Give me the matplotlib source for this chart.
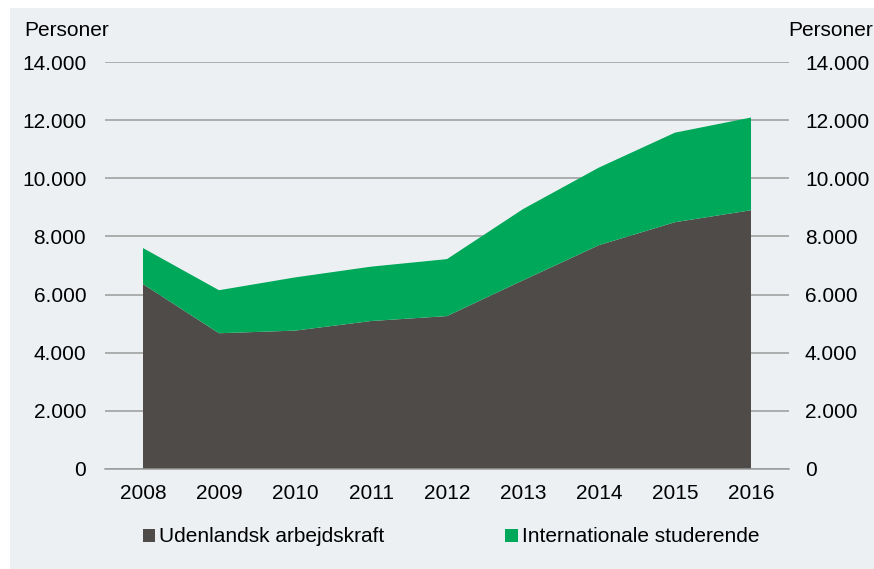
import matplotlib.pyplot as plt
from matplotlib.patches import Rectangle

plt.rcParams['font.family'] = ['Liberation Sans', 'DejaVu Sans']

years = [2008, 2009, 2010, 2011, 2012, 2013, 2014, 2015, 2016]
arbejdskraft = [6360, 4670, 4760, 5090, 5260, 6490, 7700, 8490, 8900]
studerende = [1240, 1480, 1830, 1870, 1960, 2450, 2670, 3080, 3190]
yticks = [0, 2000, 4000, 6000, 8000, 10000, 12000, 14000]
ytick_labels = ['0', '2.000', '4.000', '6.000', '8.000', '10.000', '12.000', '14.000']
labels = ['Udenlandsk arbejdskraft', 'Internationale studerende']

dark = '#4f4b48'
green = '#00a85a'
bg = '#ecf0f3'
grid = '#9a9a9a'
fs = 15

fig = plt.figure(figsize=(8.74, 5.69), dpi=100, facecolor='white')
fig.patches.append(Rectangle((10 / 874, 0), 1, 561 / 569, transform=fig.transFigure,
                             facecolor=bg, edgecolor='none', zorder=-10))

ax = fig.add_axes([105 / 874, 1 - 469 / 569, 684 / 874, 407 / 569])
ax.set_facecolor('none')
ax.stackplot(years, arbejdskraft, studerende, colors=[dark, green],
             labels=labels, linewidth=0, zorder=2)

ax.set_xlim(2007.5, 2016.5)
ax.set_ylim(0, 14000)
ax.set_yticks(yticks)
ax.set_yticklabels(ytick_labels)
ax.set_xticks(years)
ax.yaxis.grid(True, color=grid, linewidth=1.1)
ax.set_axisbelow(True)
for s in ['top', 'left', 'right']:
    ax.spines[s].set_visible(False)
ax.spines['bottom'].set_color(grid)
ax.spines['bottom'].set_linewidth(1.1)
ax.tick_params(axis='both', length=0, labelsize=fs, colors='black')
ax.tick_params(axis='y', pad=13.5)
ax.tick_params(axis='x', pad=11)

ax2 = ax.twinx()
ax2.set_ylim(0, 14000)
ax2.set_yticks(yticks)
ax2.set_yticklabels(ytick_labels)
for s in ['top', 'left', 'right', 'bottom']:
    ax2.spines[s].set_visible(False)
ax2.tick_params(axis='y', length=0, labelsize=fs, pad=11.5)

fig.text(24 / 874, 1 - 30 / 569, 'Personer', fontsize=fs, va='center', ha='left')
fig.text(788 / 874, 1 - 30 / 569, 'Personer', fontsize=fs, va='center', ha='left')

leg = fig.legend(loc='center', bbox_to_anchor=(451 / 874, 1 - 537 / 569), ncol=2,
                 frameon=False, fontsize=fs, handlelength=0.6, handleheight=0.6,
                 handletextpad=0.2, columnspacing=5.8)

fig.savefig('out.png', dpi=100, facecolor=fig.get_facecolor())
